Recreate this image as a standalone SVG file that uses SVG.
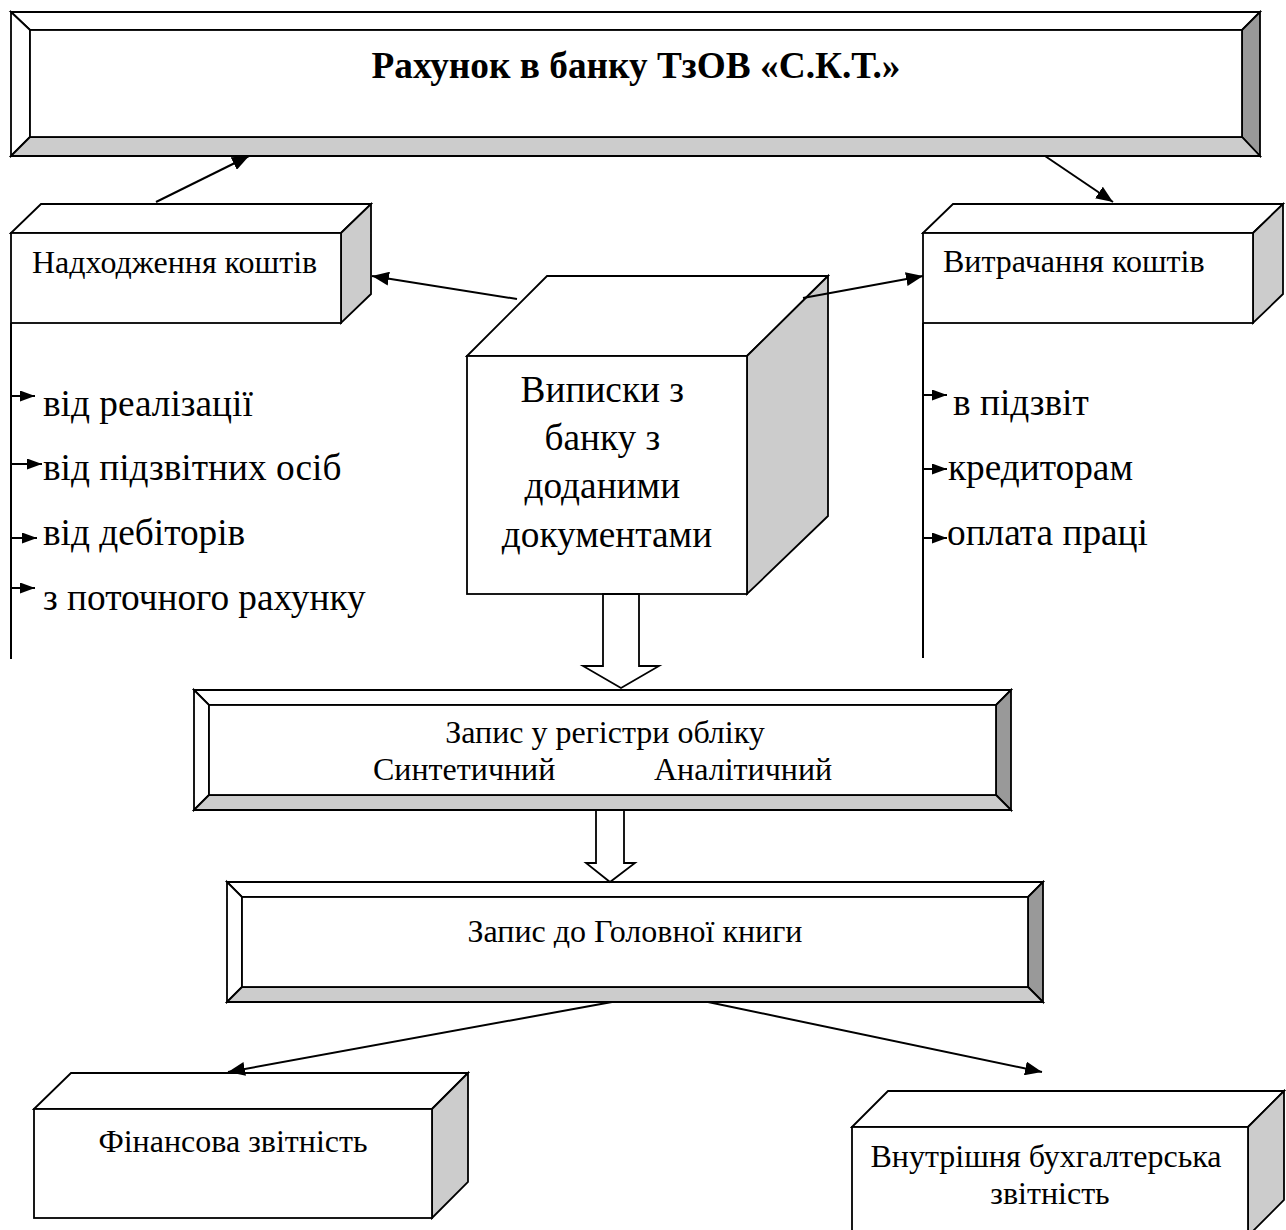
<svg xmlns="http://www.w3.org/2000/svg" width="1286" height="1230" viewBox="0 0 1286 1230">
  <style>
    .ln { stroke: #000; stroke-width: 1.8; stroke-linejoin: miter; }
    .w { fill: #fff; }
    .lg { fill: #cccccc; }
    .dg { fill: #999999; }
    .t { font-family: "Liberation Serif", "Times New Roman", serif; fill: #000; }
    .s32 { font-size: 32px; }
    .s37 { font-size: 37.3px; }
    .conn { stroke: #000; stroke-width: 2; fill: none; }
  </style>
  <defs>
    <marker id="ah" markerWidth="18" markerHeight="14" refX="17" refY="7" orient="auto" markerUnits="userSpaceOnUse">
      <path d="M0,0 L17,7 L0,14 z" fill="#000"/>
    </marker>
    <marker id="ahs" markerWidth="16" markerHeight="12" refX="15" refY="5.5" orient="auto" markerUnits="userSpaceOnUse">
      <path d="M0,0 L15,5.5 L0,11 z" fill="#000"/>
    </marker>
  </defs>
  <rect width="1286" height="1230" fill="#fff"/>

  <!-- Top bevel box -->
  <g id="node-account">
    <polygon class="ln w" points="11,12 1260,12 1242,30 30,30"/>
    <polygon class="ln w" points="11,12 30,30 30,137 11,156"/>
    <polygon class="ln dg" points="1260,12 1260,156 1242,137 1242,30"/>
    <polygon class="ln lg" points="11,156 30,137 1242,137 1260,156"/>
    <rect class="ln w" x="30" y="30" width="1212" height="107"/>
    <text class="t s37" x="636" y="78" text-anchor="middle" font-weight="bold">Рахунок в банку ТзОВ «С.К.Т.»</text>
  </g>

  <!-- Left cube -->
  <g id="node-income">
    <polygon class="ln w" points="11,233 41,204 371,204 341,233"/>
    <polygon class="ln lg" points="341,233 371,204 371,294 341,323"/>
    <rect class="ln w" x="11" y="233" width="330" height="90"/>
    <text class="t s32" x="32" y="273">Надходження коштів</text>
  </g>

  <!-- Right cube -->
  <g id="node-spend">
    <polygon class="ln w" points="923,233 953,204 1283,204 1253,233"/>
    <polygon class="ln lg" points="1253,233 1283,204 1283,294 1253,323"/>
    <rect class="ln w" x="923" y="233" width="330" height="90"/>
    <text class="t s32" x="943" y="272">Витрачання коштів</text>
  </g>

  <!-- Central cube -->
  <g id="node-statements">
    <polygon class="ln w" points="467,356 547,276 828,276 747,356"/>
    <polygon class="ln lg" points="747,356 828,276 828,516 747,594"/>
    <rect class="ln w" x="467" y="356" width="280" height="238"/>
    <text class="t s37" text-anchor="middle">
      <tspan x="607" y="402">Виписки з</tspan>
      <tspan x="607" y="450">банку з</tspan>
      <tspan x="607" y="498">доданими</tspan>
      <tspan x="607" y="547">документами</tspan>
    </text>
  </g>

  <!-- Left list -->
  <g id="list-income">
    <text class="t s37" x="43" y="416">від реалізації</text>
    <text class="t s37" x="43" y="480">від підзвітних осіб</text>
    <text class="t s37" x="43" y="545">від дебіторів</text>
    <text class="t s37" x="43" y="610">з поточного рахунку</text>
  </g>

  <!-- Right list -->
  <g id="list-spend">
    <text class="t s37" x="953" y="415">в підзвіт</text>
    <text class="t s37" x="948" y="480">кредиторам</text>
    <text class="t s37" x="947" y="545">оплата праці</text>
  </g>

  <!-- Register box -->
  <g id="node-register">
    <polygon class="ln w" points="194,690 1011,690 996,705 209,705"/>
    <polygon class="ln w" points="194,690 209,705 209,795 194,810"/>
    <polygon class="ln dg" points="1011,690 1011,810 996,795 996,705"/>
    <polygon class="ln lg" points="194,810 209,795 996,795 1011,810"/>
    <rect class="ln w" x="209" y="705" width="787" height="90"/>
    <text class="t s32" x="605" y="743" text-anchor="middle">Запис у регістри обліку</text>
    <text class="t s32" x="373" y="780">Синтетичний</text>
    <text class="t s32" x="654" y="780">Аналітичний</text>
  </g>

  <!-- General ledger box -->
  <g id="node-ledger">
    <polygon class="ln w" points="227,882 1043,882 1028,897 242,897"/>
    <polygon class="ln w" points="227,882 242,897 242,987 227,1002"/>
    <polygon class="ln dg" points="1043,882 1043,1002 1028,987 1028,897"/>
    <polygon class="ln lg" points="227,1002 242,987 1028,987 1043,1002"/>
    <rect class="ln w" x="242" y="897" width="786" height="90"/>
    <text class="t s32" x="635" y="942" text-anchor="middle">Запис до Головної книги</text>
  </g>

  <!-- Financial reporting cube -->
  <g id="node-financial">
    <polygon class="ln w" points="34,1109 71,1073 468,1073 432,1109"/>
    <polygon class="ln lg" points="432,1109 468,1073 468,1182 432,1218"/>
    <rect class="ln w" x="34" y="1109" width="398" height="109"/>
    <text class="t s32" x="233" y="1152" text-anchor="middle">Фінансова звітність</text>
  </g>

  <!-- Internal reporting cube -->
  <g id="node-internal">
    <polygon class="ln w" points="852,1127 888,1091 1284,1091 1248,1127"/>
    <polygon class="ln lg" points="1248,1127 1284,1091 1284,1200 1248,1236"/>
    <rect class="ln w" x="852" y="1127" width="396" height="120"/>
    <text class="t s32" text-anchor="middle">
      <tspan x="1050" y="1167">Внутрішня бухгалтерська</tspan>
      <tspan x="1050" y="1204">звітність</tspan>
    </text>
  </g>

  <!-- Connectors -->
  <g id="connectors">
    <line class="conn" x1="156" y1="202" x2="249" y2="156" marker-end="url(#ah)"/>
    <line class="conn" x1="1045" y1="156" x2="1113" y2="202" marker-end="url(#ah)"/>
    <line class="conn" x1="517" y1="299" x2="372" y2="276" marker-end="url(#ah)"/>
    <line class="conn" x1="803" y1="298" x2="923" y2="276" marker-end="url(#ah)"/>
    <line class="conn" x1="11" y1="323" x2="11" y2="659"/>
    <line class="conn" x1="923" y1="323" x2="923" y2="658"/>
    <line class="conn" x1="11" y1="396" x2="35" y2="396" marker-end="url(#ahs)"/>
    <line class="conn" x1="11" y1="464" x2="42" y2="464" marker-end="url(#ahs)"/>
    <line class="conn" x1="11" y1="538" x2="37" y2="538" marker-end="url(#ahs)"/>
    <line class="conn" x1="11" y1="588" x2="35" y2="588" marker-end="url(#ahs)"/>
    <line class="conn" x1="923" y1="395" x2="947" y2="395" marker-end="url(#ahs)"/>
    <line class="conn" x1="923" y1="469" x2="947" y2="469" marker-end="url(#ahs)"/>
    <line class="conn" x1="923" y1="538" x2="947" y2="538" marker-end="url(#ahs)"/>
    <polygon class="ln w" points="603,594 639,594 639,666 659,666 621,688 583,666 603,666"/>
    <polygon class="ln w" points="596,810 624,810 624,863 635,863 610,882 586,863 596,863"/>
    <line class="conn" x1="612" y1="1002" x2="228" y2="1072" marker-end="url(#ah)"/>
    <line class="conn" x1="708" y1="1002" x2="1042" y2="1072" marker-end="url(#ah)"/>
  </g>
</svg>
